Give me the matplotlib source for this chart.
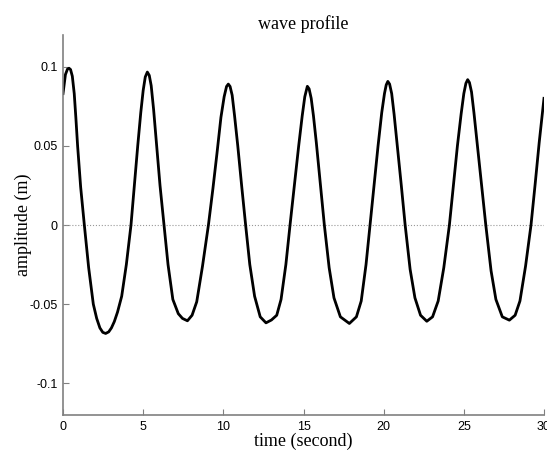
import numpy as np
import matplotlib
matplotlib.use('Agg')
import matplotlib.pyplot as plt

# wave record (time in s, amplitude in m)
time_s = [0.0, 0.15, 0.28, 0.375, 0.47, 0.58, 0.7, 0.8, 0.91, 1.1, 1.33, 1.6, 1.89,
          2.1, 2.3, 2.48, 2.66, 2.85, 3.02, 3.2, 3.4, 3.66, 3.95, 4.24, 4.45, 4.66,
          4.85, 5.0, 5.13, 5.26,
          5.38, 5.5, 5.65, 5.84, 6.05, 6.3, 6.55, 6.85, 7.19, 7.45, 7.76, 8.05,
          8.34, 8.7, 9.07, 9.35, 9.6, 9.85, 10.05, 10.2, 10.31,
          10.42, 10.55, 10.7, 10.9, 11.15, 11.39, 11.65, 11.95, 12.3, 12.66, 13.0,
          13.33, 13.6, 13.9, 14.16, 14.45, 14.7, 14.92, 15.08, 15.24,
          15.35, 15.48, 15.62, 15.8, 16.05, 16.3, 16.6, 16.9, 17.3, 17.86, 18.3,
          18.6, 18.9, 19.15, 19.4, 19.65, 19.88, 20.05, 20.16, 20.26,
          20.37, 20.5, 20.65, 20.85, 21.1, 21.34, 21.65, 21.95, 22.3, 22.69, 23.05,
          23.4, 23.75, 24.1, 24.35, 24.6, 24.83, 25.0, 25.13, 25.24,
          25.35, 25.48, 25.63, 25.85, 26.1, 26.37, 26.7, 27.0, 27.4, 27.84, 28.2,
          28.5, 28.85, 29.19, 29.45, 29.7, 30.0]
amplitude = [0.083, 0.095, 0.0985, 0.099, 0.0982, 0.094, 0.083, 0.068, 0.050, 0.024,
             0.0, -0.027, -0.050, -0.059, -0.065, -0.0678, -0.0685, -0.0675,
             -0.065, -0.061, -0.055, -0.045, -0.025, 0.0, 0.025, 0.050, 0.071,
             0.085, 0.0935, 0.0966,
             0.0945, 0.088, 0.073, 0.050, 0.025, 0.0, -0.025, -0.047, -0.056,
             -0.059, -0.0605, -0.057, -0.0485, -0.026, 0.0, 0.023, 0.045, 0.068,
             0.081, 0.0875, 0.089,
             0.0875, 0.082, 0.069, 0.050, 0.024, 0.0, -0.025, -0.045, -0.058,
             -0.0618, -0.060, -0.057, -0.047, -0.025, 0.0, 0.027, 0.050, 0.069,
             0.081, 0.0876,
             0.086, 0.080, 0.069, 0.052, 0.026, 0.0, -0.027, -0.046, -0.058,
             -0.0622, -0.058, -0.048, -0.025, 0.0, 0.025, 0.050, 0.071, 0.083,
             0.0885, 0.0907,
             0.089, 0.083, 0.070, 0.050, 0.025, 0.0, -0.028, -0.046, -0.057,
             -0.0608, -0.058, -0.048, -0.027, 0.0, 0.025, 0.050, 0.070, 0.083,
             0.0895, 0.0918,
             0.090, 0.084, 0.071, 0.050, 0.026, 0.0, -0.029, -0.047, -0.058,
             -0.0601, -0.057, -0.048, -0.026, 0.0, 0.026, 0.052, 0.080]

x_ticks = [0, 5, 10, 15, 20, 25, 30]
y_ticks = [-0.1, -0.05, 0, 0.05, 0.1]
y_tick_labels = ['-0.1', '-0.05', '0', '0.05', '0.1']

fig = plt.figure(figsize=(5.47, 4.5), dpi=100)
ax = fig.add_axes([0.1152, 0.0778, 0.8793, 0.8444])

ax.axhline(0, color='#999999', linestyle=':', linewidth=0.8)
ax.plot(time_s, amplitude, color='black', linewidth=2.0)

ax.set_xlim(0, 30)
ax.set_ylim(-0.12, 0.12)
ax.set_xticks(x_ticks)
ax.set_yticks(y_ticks)
ax.set_yticklabels(y_tick_labels)
ax.tick_params(direction='in', length=4, width=0.8, color='#808080',
               labelsize=9, pad=4)
for lbl in ax.get_xticklabels() + ax.get_yticklabels():
    lbl.set_family('Liberation Sans')

for side in ['top', 'right']:
    ax.spines[side].set_visible(False)
for side in ['left', 'bottom']:
    ax.spines[side].set_color('#808080')
    ax.spines[side].set_linewidth(1.2)

serif = dict(family='Liberation Serif', fontsize=13)
ax.set_title('wave profile', pad=4, **serif)
ax.set_xlabel('time (second)', labelpad=0, **serif)
ax.set_ylabel('amplitude (m)', **serif)
ax.yaxis.set_label_coords(-0.064, 0.5)

plt.savefig('out.png', dpi=100)
